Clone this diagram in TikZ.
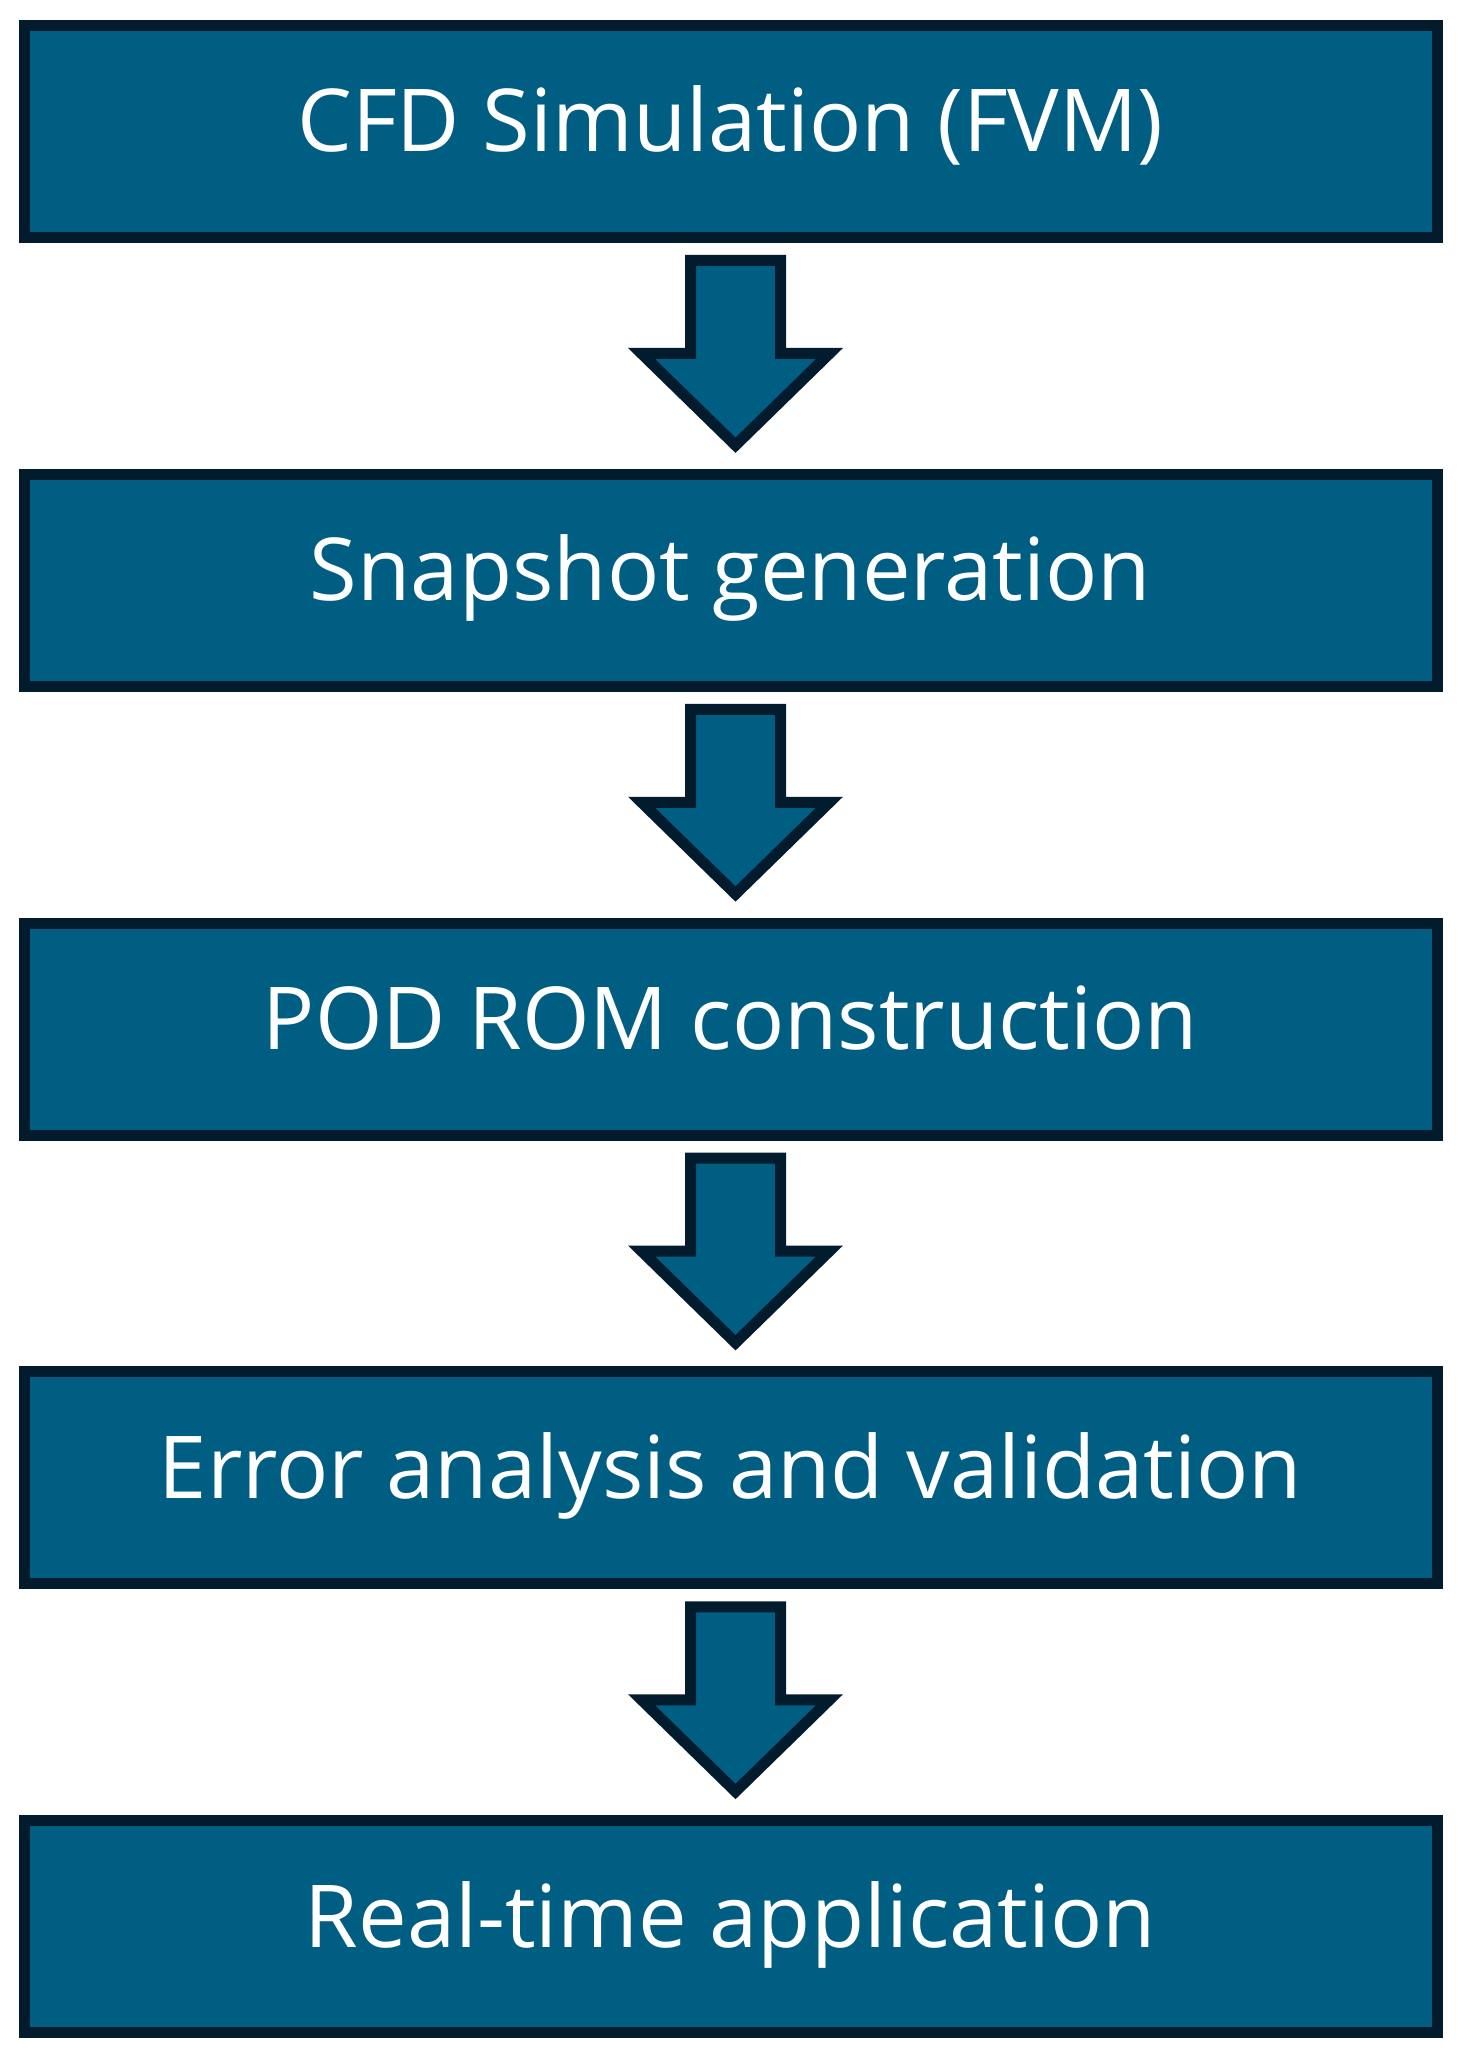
\documentclass[tikz,border=0pt]{standalone}
\usepackage{fontspec}
\setmainfont{Open Sans}
\usetikzlibrary{calc}

\definecolor{boxblue}{RGB}{0,94,131}
\definecolor{boxedge}{RGB}{2,28,45}

\tikzset{
  stepbox/.style={draw=boxedge, fill=boxblue, line width=5.5pt, outer sep=0pt,
    minimum width=706.5pt, minimum height=106pt, text=white,
    text height=30pt, text depth=9.5pt,
    font=\fontsize{43.4}{50}\selectfont},
  blockarrow/.style={draw=boxedge, fill=boxblue, line width=5.5pt, line join=miter}
}

\begin{document}
\begin{tikzpicture}
              \useasboundingbox (0,0) rectangle (728.5pt,-1027pt);

              \node[stepbox] (cfd)  at (365.25pt,-65.75pt)  {CFD Simulation (FVM)};
              \node[stepbox] (snap) at (365.25pt,-290.125pt) {Snapshot generation};
              \node[stepbox] (pod)  at (365.25pt,-514.5pt)  {POD ROM construction};
              \node[stepbox] (err)  at (365.25pt,-738.875pt) {Error analysis and validation};
              \node[stepbox] (rt)   at (365.25pt,-963.25pt) {Real-time application};

              % block arrows between the steps
              \foreach \a/\b in {cfd/snap, snap/pod, pod/err, err/rt}
              \filldraw[blockarrow] ([xshift=-20pt,yshift=-11.5pt]\a.south)
                -- ([xshift=-20pt,yshift=-58pt]\a.south)
                -- ([xshift=-44.5pt,yshift=-58pt]\a.south)
                -- ([xshift=2.5pt,yshift=14.5pt]\b.north)
                -- ([xshift=49.5pt,yshift=-58pt]\a.south)
                -- ([xshift=25pt,yshift=-58pt]\a.south)
                -- ([xshift=25pt,yshift=-11.5pt]\a.south) -- cycle;

          \end{tikzpicture}
\end{document}
